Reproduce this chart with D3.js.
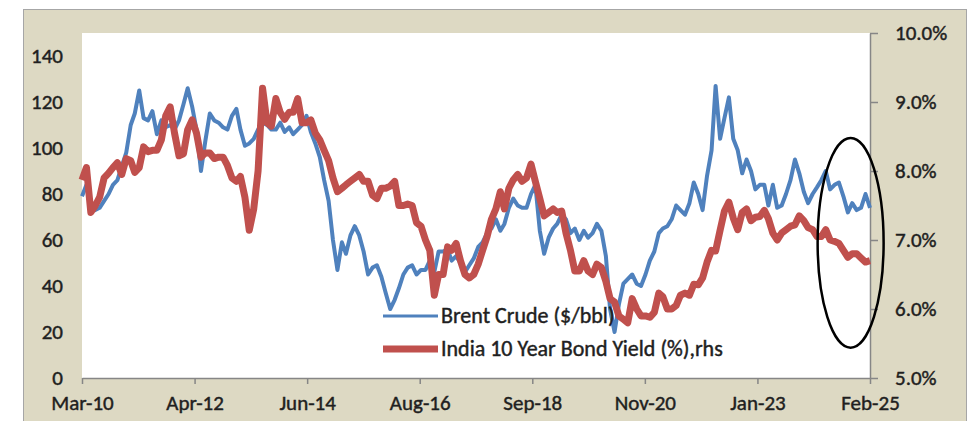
<html>
<head>
<script src="https://cdnjs.cloudflare.com/ajax/libs/d3/7.8.5/d3.min.js"></script>
<style>
body { margin: 0; background: white; }
text { font-family: Carlito, Calibri, "Liberation Sans", Arial, sans-serif; fill: #1f1f1f; stroke: #1f1f1f; stroke-width: 0.45px; }
</style>
</head>
<body></body>
<script>
// monthly readings, Mar-2010 .. Feb-2025
var brentCrude = [
  79, 84, 75, 73, 74, 77, 80, 84, 86, 92,
  98, 110, 115, 125, 113, 112, 116, 106, 112, 109, 110, 108,
  112, 119, 126, 118, 108, 90, 103, 115, 112, 111, 109, 108,
  114, 117, 108, 101, 102, 104, 108, 111, 110, 108, 108, 111,
  107, 109, 106, 108, 110, 114, 107, 102, 96, 86, 77, 60,
  47, 59, 54, 62, 66, 62, 55, 45, 48, 49, 44, 37,
  30, 34, 39, 45, 48, 49, 45, 47, 47, 51, 46, 55,
  55, 56, 51, 53, 50, 46, 49, 52, 57, 59, 63, 65,
  69, 64, 67, 74, 78, 75, 74, 74, 80, 84, 64, 54,
  61, 65, 67, 71, 69, 63, 65, 60, 64, 61, 63, 67,
  64, 53, 30, 20, 32, 41, 43, 45, 41, 40, 45, 51,
  55, 63, 65, 66, 69, 75, 73, 71, 76, 85, 80, 73,
  88, 99, 127, 104, 113, 122, 104, 99, 89, 95, 90, 82,
  84, 84, 75, 84, 74, 75, 80, 86, 95, 89, 81, 76,
  80, 83, 86, 90, 82, 84, 85, 79, 72, 76, 73, 74,
  80, 74
];
var indiaYield = [
  7.87, 8.05, 7.40, 7.50, 7.62, 7.90, 7.97, 8.05, 8.12, 7.95,
  8.18, 8.15, 7.98, 8.05, 8.35, 8.28, 8.30, 8.30, 8.45, 8.80, 8.93, 8.55,
  8.22, 8.25, 8.60, 8.74, 8.55, 8.20, 8.26, 8.26, 8.18, 8.20, 8.20, 8.08,
  7.90, 7.85, 7.92, 7.62, 7.14, 7.45, 8.00, 9.20, 8.70, 8.65, 9.05, 8.85,
  8.75, 8.85, 8.85, 9.05, 8.70, 8.70, 8.74, 8.55, 8.45, 8.30, 8.15, 7.90,
  7.70, 7.75, 7.80, 7.85, 7.90, 7.95, 7.85, 7.85, 7.65, 7.60, 7.75, 7.75,
  7.78, 7.85, 7.50, 7.50, 7.52, 7.50, 7.25, 7.20, 7.00, 6.85, 6.20, 6.50,
  6.50, 6.90, 6.85, 6.95, 6.70, 6.50, 6.45, 6.50, 6.65, 6.85, 7.05, 7.30,
  7.45, 7.70, 7.45, 7.75, 7.87, 7.95, 7.85, 7.90, 8.10, 7.85, 7.60, 7.35,
  7.40, 7.45, 7.40, 7.42, 7.10, 6.85, 6.55, 6.55, 6.70, 6.55, 6.50, 6.65,
  6.60, 6.40, 6.15, 6.10, 5.90, 5.85, 5.80, 6.15, 6.00, 5.90, 5.90, 5.88,
  5.95, 6.23, 6.18, 6.00, 6.00, 6.05, 6.20, 6.23, 6.20, 6.36, 6.35, 6.45,
  6.68, 6.85, 6.84, 7.14, 7.42, 7.55, 7.32, 7.15, 7.40, 7.45, 7.28, 7.33,
  7.34, 7.43, 7.31, 7.10, 7.00, 7.10, 7.15, 7.20, 7.22, 7.35, 7.28, 7.18,
  7.15, 7.05, 7.05, 7.15, 7.00, 6.98, 6.95, 6.85, 6.75, 6.80, 6.80, 6.74,
  6.68, 6.70
];
var xTickLabels = ["Mar-10", "Apr-12", "Jun-14", "Aug-16", "Sep-18", "Nov-20", "Jan-23", "Feb-25"];
var leftTicks = [0, 20, 40, 60, 80, 100, 120, 140];
var rightTicks = [5, 6, 7, 8, 9, 10];
var seriesNames = ["Brent Crude ($/bbl)", "India 10 Year Bond Yield (%),rhs"];

var screen = {width: 978, height: 421};
var plot = {left: 82, right: 870, top: 33, bottom: 378};
var blue = "#4F81BD", red = "#C0504D";
var svg = null;

function initSvg() {
  svg = d3.select("body").append("svg")
    .attr("width", screen.width)
    .attr("height", screen.height)
    .style("background-color", "white");
  svg.append("rect")
    .attr("x", 23.5).attr("y", 9.5)
    .attr("width", 943).attr("height", 430)
    .attr("fill", "#DDD9C3").attr("stroke", "#A6A6A6");
  svg.append("rect")
    .attr("x", plot.left).attr("y", plot.top)
    .attr("width", plot.right - plot.left).attr("height", plot.bottom - plot.top)
    .attr("fill", "white");
}

initSvg();

var start = new Date(2010, 2, 1);
var dates = brentCrude.map(function (d, i) { return d3.timeMonth.offset(start, i); });
var end = dates[dates.length - 1];

var x = d3.scaleTime().domain([start, end]).range([plot.left, plot.right]);
var yL = d3.scaleLinear().domain([0, 150]).range([plot.bottom, plot.top]);
var yR = d3.scaleLinear().domain([5, 10]).range([plot.bottom, plot.top]);

var xTicks = xTickLabels.map(function (d, k) {
  return new Date(+start + k * (end - start) / (xTickLabels.length - 1));
});

function styleAxis(g) {
  g.selectAll("path.domain").attr("stroke", "#868686").attr("stroke-width", 1.5);
  g.selectAll(".tick line").attr("stroke", "#868686").attr("stroke-width", 1.5);
  g.selectAll("text").style("font-size", "21px").attr("fill", "#1f1f1f");
}

var gx = svg.append("g")
  .attr("transform", "translate(0," + plot.bottom + ")")
  .call(d3.axisBottom(x).tickValues(xTicks).tickSize(6).tickSizeOuter(0).tickPadding(11)
    .tickFormat(function (d, i) { return xTickLabels[i]; }));
styleAxis(gx);

var gl = svg.append("g")
  .attr("transform", "translate(" + plot.left + ",0)")
  .call(d3.axisLeft(yL).tickValues(leftTicks).tickSize(0).tickPadding(19));
styleAxis(gl);
gl.select("path.domain").remove();

var gr = svg.append("g")
  .attr("transform", "translate(" + plot.right + ",0)")
  .call(d3.axisRight(yR).tickValues(rightTicks).tickSize(8).tickSizeOuter(0).tickPadding(17)
    .tickFormat(function (d) { return d.toFixed(1) + "%"; }));
styleAxis(gr);

var brentLine = d3.line()
  .x(function (d, i) { return x(dates[i]); })
  .y(function (d) { return yL(d); });
var yieldLine = d3.line()
  .x(function (d, i) { return x(dates[i]); })
  .y(function (d) { return yR(d); });

svg.append("path").datum(brentCrude)
  .attr("d", brentLine)
  .attr("fill", "none").attr("stroke", blue)
  .attr("stroke-width", 4).attr("stroke-linejoin", "round");
svg.append("path").datum(indiaYield)
  .attr("d", yieldLine)
  .attr("fill", "none").attr("stroke", red)
  .attr("stroke-width", 7).attr("stroke-linejoin", "round");

// legend
var legend = [
  {name: seriesNames[0], color: blue, width: 3, y: 316},
  {name: seriesNames[1], color: red, width: 7, y: 349}
];
var lg = svg.append("g").selectAll("g").data(legend).enter().append("g");
lg.append("line")
  .attr("x1", 383).attr("x2", 438)
  .attr("y1", function (d) { return d.y; }).attr("y2", function (d) { return d.y; })
  .attr("stroke", function (d) { return d.color; })
  .attr("stroke-width", function (d) { return d.width; });
lg.append("text")
  .attr("x", 441)
  .attr("y", function (d) { return d.y + 7; })
  .style("font-size", "22px")
  .text(function (d) { return d.name; });

// highlight ellipse over the latest months
var cx = x(new Date(2024, 8, 20));
svg.append("ellipse")
  .attr("cx", cx)
  .attr("cy", (yR(8.48) + yR(5.44)) / 2)
  .attr("rx", 33)
  .attr("ry", (yR(5.44) - yR(8.48)) / 2)
  .attr("fill", "none")
  .attr("stroke", "black")
  .attr("stroke-width", 2.5);
</script>
</html>
